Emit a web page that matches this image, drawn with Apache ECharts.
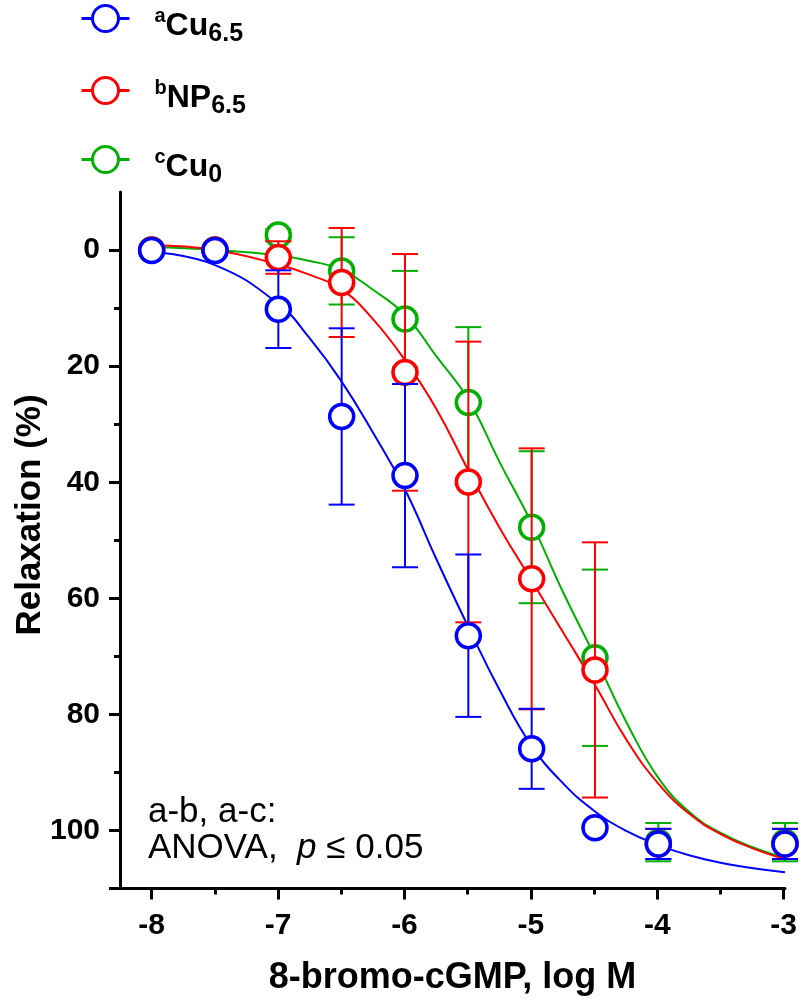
<!DOCTYPE html>
<html><head><meta charset="utf-8">
<script src="https://cdn.jsdelivr.net/npm/echarts@6/dist/echarts.min.js"></script>
<style>html,body{margin:0;padding:0;background:#fff}#c{width:800px;height:1001px}</style>
</head><body><div id="c"></div>
<script>
// ---- data (log M doses, % relaxation) ----
const doses = [-8, -7.5, -7, -6.5, -6, -5.5, -5, -4.5, -4, -3];
const cu65 = [0.1, 0.1, 10.2, 28.7, 38.9, 66.5, 86.0, 99.6, 102.4, 102.4];
const cu65Err = [0, 0, 6.7, 15.2, 15.8, 14.0, 6.9, 0, 2.6, 2.6];
const np65 = [0, 0, 1.3, 5.6, 21.1, 40.0, 56.7, 72.4, 102.4, 102.4];
const np65Err = [0, 0, 2.8, 9.4, 20.4, 24.2, 22.5, 22.0, 2.6, 2.6];
const cu0 = [0, 0, -2.6, 3.6, 11.9, 26.3, 47.8, 70.3, 102.1, 102.1];
const cu0Err = [0, 0, 1.0, 5.8, 8.3, 13.0, 13.1, 15.2, 3.3, 3.3];

// fitted curves
const curveX = [-8, -7.5, -7, -6.75, -6.5, -6.25, -6, -5.75, -5.5, -5.25, -5, -4.75, -4.5, -4.25, -4, -3.75, -3.5, -3.25, -3];
const cu65Fit = [0.3, 2.6, 9.3, 15.3, 22.7, 31.6, 41.3, 53.4, 65.0, 76.0, 85.5, 92.0, 96.8, 100.2, 102.6, 104.4, 105.7, 106.6, 107.3];
const np65Fit = [-0.8, 0.0, 2.5, 4.3, 6.8, 12.0, 19.0, 27.5, 38.0, 48.0, 57.0, 66.0, 75.0, 84.5, 92.0, 97.3, 100.8, 103.2, 105.0];
const cu0Fit = [-0.5, 0.0, 0.9, 1.9, 3.4, 6.9, 11.2, 18.4, 25.8, 36.7, 47.1, 59.1, 70.1, 81.5, 91.0, 97.0, 100.6, 103.0, 104.8];

const xTickLabels = [-8, -7, -6, -5, -4, -3];
const yTickLabels = [0, 20, 40, 60, 80, 100];

const BLUE = '#0000ff', RED = '#ff0000', GREEN = '#00b000';
const FONT = 'Liberation Sans, Arial, Helvetica, sans-serif';

function errSeries(vals, errs, color, z) {
  return {
    type: 'custom', xAxisIndex: 0, yAxisIndex: 0, z: z, silent: true,
    data: doses.map((d, i) => [d, vals[i], errs[i]]).filter(r => r[2] > 0),
    renderItem: function (params, api) {
      const x = api.value(0), y = api.value(1), e = api.value(2);
      const a = api.coord([x, y - e]), b = api.coord([x, y + e]);
      const w = 13, st = { stroke: color, lineWidth: 2 };
      return { type: 'group', children: [
        { type: 'line', shape: { x1: a[0], y1: a[1], x2: b[0], y2: b[1] }, style: st },
        { type: 'line', shape: { x1: a[0] - w, y1: a[1], x2: a[0] + w, y2: a[1] }, style: st },
        { type: 'line', shape: { x1: b[0] - w, y1: b[1], x2: b[0] + w, y2: b[1] }, style: st }
      ]};
    }
  };
}
function pts(name, vals, color, z) {
  return {
    type: 'scatter', name: name, xAxisIndex: 0, yAxisIndex: 0, z: z,
    symbol: 'circle', symbolSize: 24,
    itemStyle: { color: '#ffffff', borderColor: color, borderWidth: 3.5, opacity: 1 },
    data: doses.map((d, i) => [d, vals[i]])
  };
}
function fit(vals, color, z) {
  return {
    type: 'line', xAxisIndex: 0, yAxisIndex: 0, z: z, smooth: 0.45,
    showSymbol: false, silent: true,
    lineStyle: { color: color, width: 2 },
    data: curveX.map((x, i) => [x, vals[i]])
  };
}

const U = 5.805; // px per % unit
const XU = 665 / 5.25; // px per log unit
const mainTop = 250.05 - 10 * U;
const mainH = 120 * U;

const legendIcon = 'path://M0 13 L11 13 M37 13 L48 13 M24 0 A13 13 0 1 1 24 26 A13 13 0 1 1 24 0 Z';
const labelMap = {
  'Cu65': '{sup|a}{main|Cu}{sub|6.5}',
  'NP65': '{sup|b}{main|NP}{sub|6.5}',
  'Cu0': '{sup|c}{main|Cu}{sub|0}'
};
function mkLegend(name, centerY) {
  return {
    data: [{ name: name, icon: legendIcon }], left: 80, top: centerY - 15, padding: 0,
    itemWidth: 48, itemHeight: 26, selectedMode: false,
    itemStyle: { color: '#ffffff', borderColor: 'inherit', borderWidth: 3 },
    formatter: n => labelMap[n],
    textStyle: {
      padding: [16, 0, 0, 20],
      rich: {
        sup: { fontFamily: FONT, fontWeight: 'bold', fontSize: 20, lineHeight: 10, verticalAlign: 'top', color: '#000' },
        main: { fontFamily: FONT, fontWeight: 'bold', fontSize: 32, lineHeight: 40, color: '#000' },
        sub: { fontFamily: FONT, fontWeight: 'bold', fontSize: 25, lineHeight: 25, verticalAlign: 'bottom', color: '#000' }
      }
    }
  };
}

const chart = echarts.init(document.getElementById('c'), null, { renderer: 'canvas' });
chart.setOption({
  animation: false,
  backgroundColor: '#ffffff',
  legend: [mkLegend('Cu65', 19), mkLegend('NP65', 91), mkLegend('Cu0', 160)],
  grid: [
    { left: 120, top: mainTop, width: 665, height: mainH, containLabel: false },
    { left: 120 + 0.25 * XU, top: 250.05, width: 5 * XU, height: 110 * U, containLabel: false }
  ],
  xAxis: [
    { gridIndex: 0, type: 'value', min: -8.25, max: -3, position: 'bottom',
      axisLine: { show: true, onZero: false, lineStyle: { color: '#000', width: 3 } },
      axisTick: { show: false }, axisLabel: { show: false }, splitLine: { show: false },
      name: '8-bromo-cGMP, log M', nameLocation: 'middle', nameGap: 72,
      nameTextStyle: { fontFamily: FONT, fontWeight: 'bold', fontSize: 36, color: '#000' } },
    { gridIndex: 1, type: 'value', min: -8, max: -3, interval: 1, position: 'bottom',
      axisLine: { show: false, onZero: false },
      axisTick: { show: true, length: 11, lineStyle: { color: '#000', width: 3 } },
      minorTick: { show: true, splitNumber: 2, length: 6, lineStyle: { color: '#000', width: 3 } },
      axisLabel: { show: true, margin: 22, fontFamily: FONT, fontWeight: 'bold', fontSize: 30, color: '#000',
        formatter: v => xTickLabels.includes(v) ? String(v) : '' },
      splitLine: { show: false } }
  ],
  yAxis: [
    { gridIndex: 0, type: 'value', min: -10, max: 110, inverse: true, position: 'left',
      axisLine: { show: true, onZero: false, lineStyle: { color: '#000', width: 3 } },
      axisTick: { show: false }, axisLabel: { show: false }, splitLine: { show: false } },
    { gridIndex: 1, type: 'value', min: 0, max: 110, interval: 20, inverse: true, position: 'left',
      offset: 0.25 * XU,
      axisLine: { show: false, onZero: false },
      axisTick: { show: true, length: 11, lineStyle: { color: '#000', width: 3 } },
      minorTick: { show: true, splitNumber: 2, length: 6, lineStyle: { color: '#000', width: 3 } },
      axisLabel: { show: true, margin: 20, fontFamily: FONT, fontWeight: 'bold', fontSize: 30, color: '#000',
        formatter: v => yTickLabels.includes(v) ? String(v) : '' },
      splitLine: { show: false } }
  ],
  graphic: [
    { type: 'text', x: 30, y: 515, rotation: Math.PI / 2,
      style: { text: 'Relaxation (%)', fontFamily: FONT, fontWeight: 'bold', fontSize: 35, fill: '#000',
        align: 'center', verticalAlign: 'middle' } },
    { type: 'text', x: 148, y: 812,
      style: { text: 'a-b, a-c:', fontFamily: FONT, fontSize: 35, fill: '#000', align: 'left', verticalAlign: 'middle' } },
    { type: 'text', x: 148, y: 848,
      style: { text: 'ANOVA,  {i|p} ≤ 0.05', fontFamily: FONT, fontSize: 35, fill: '#000', align: 'left', verticalAlign: 'middle',
        rich: { i: { fontFamily: FONT, fontSize: 35, fontStyle: 'italic', fill: '#000' } } } }
  ],
  series: [
    fit(cu0Fit, GREEN, 1), fit(np65Fit, RED, 1), fit(cu65Fit, BLUE, 1),
    errSeries(cu0, cu0Err, GREEN, 2), pts('Cu0', cu0, GREEN, 3),
    errSeries(np65, np65Err, RED, 4), pts('NP65', np65, RED, 5),
    errSeries(cu65, cu65Err, BLUE, 6), pts('Cu65', cu65, BLUE, 7)
  ]
});
</script>
</body></html>
